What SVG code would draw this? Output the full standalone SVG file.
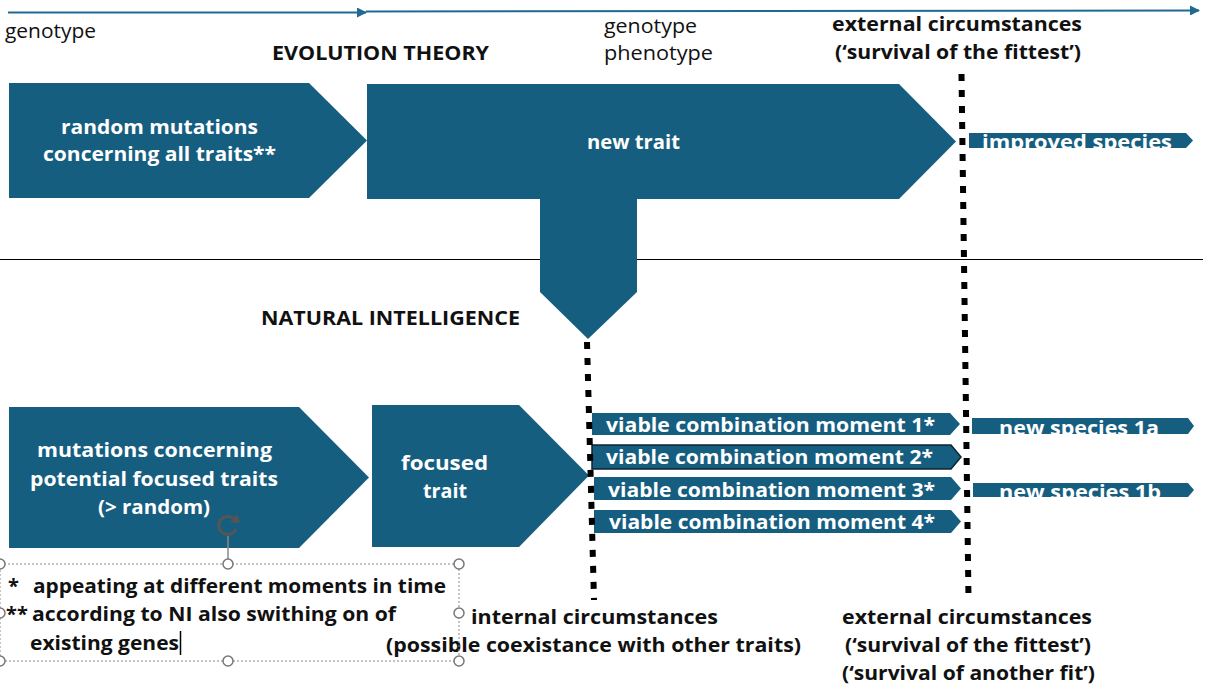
<svg xmlns="http://www.w3.org/2000/svg" width="1210" height="684" viewBox="0 0 1210 684">
<style>
.blk{fill:#165E80}
.wt{fill:#fff;font-family:"Open Sans","Liberation Sans",Arial,sans-serif;font-weight:bold;font-size:20px}
.bt{fill:#111;font-family:"Open Sans","Liberation Sans",Arial,sans-serif;font-weight:bold;font-size:20px}
.rt{fill:#111;font-family:"Open Sans","Liberation Sans",Arial,sans-serif;font-size:20px}
.dot{stroke:#000;stroke-width:6;stroke-dasharray:7 9;fill:none}
.tl{stroke:#1F6A93;stroke-width:2;fill:none}
.hd{fill:#fff;stroke:#777;stroke-width:1.5}
</style>
<defs>
<marker id="ah" viewBox="0 0 10 10" refX="9" refY="5" markerWidth="5" markerHeight="5" orient="auto" markerUnits="strokeWidth">
<path d="M0,0 L10,5 L0,10 Z" fill="#1F6A93"/>
</marker>
</defs>
<rect width="1210" height="684" fill="#fff"/>

<g id="labels">
<text class="rt" x="5" y="38" textLength="91" lengthAdjust="spacingAndGlyphs">genotype</text>
<text class="bt" x="272" y="60" font-size="21" textLength="217" lengthAdjust="spacingAndGlyphs">EVOLUTION THEORY</text>
<text class="rt" x="604" y="33" textLength="93" lengthAdjust="spacingAndGlyphs">genotype</text>
<text class="rt" x="604" y="60" textLength="109" lengthAdjust="spacingAndGlyphs">phenotype</text>
<text class="bt" x="832" y="31" textLength="250" lengthAdjust="spacingAndGlyphs">external circumstances</text>
<text class="bt" x="835" y="59" textLength="246" lengthAdjust="spacingAndGlyphs">(‘survival of the fittest’)</text>
<text class="bt" x="261" y="325" font-size="21" textLength="259" lengthAdjust="spacingAndGlyphs">NATURAL INTELLIGENCE</text>
<text class="bt" x="471" y="624" textLength="247" lengthAdjust="spacingAndGlyphs">internal circumstances</text>
<text class="bt" x="386" y="652" textLength="415" lengthAdjust="spacingAndGlyphs">(possible coexistance with other traits)</text>
<text class="bt" x="842" y="624" textLength="250" lengthAdjust="spacingAndGlyphs">external circumstances</text>
<text class="bt" x="845" y="652" textLength="246" lengthAdjust="spacingAndGlyphs">(‘survival of the fittest’)</text>
<text class="bt" x="842" y="680" textLength="253" lengthAdjust="spacingAndGlyphs">(‘survival of another fit’)</text>
</g>

<g id="separator">
<line x1="0" y1="259.5" x2="1203" y2="259.5" stroke="#000" stroke-width="1"/>
</g>

<g id="timeline">
<line class="tl" x1="8" y1="12.5" x2="366" y2="12.5" marker-end="url(#ah)"/>
<line class="tl" x1="366" y1="11.5" x2="1199" y2="10.5" marker-end="url(#ah)"/>
</g>

<g id="node-random-mutations">
<path class="blk" d="M9,83 L309,83 L367,140.5 L309,198 L9,198 Z"/>
<text class="wt" x="61" y="134" textLength="197" lengthAdjust="spacingAndGlyphs">random mutations</text>
<text class="wt" x="43" y="161" textLength="233" lengthAdjust="spacingAndGlyphs">concerning all traits**</text>
</g>

<g id="node-new-trait">
<path class="blk" d="M367,84 L899,84 L956,141.5 L899,199 L367,199 Z"/>
<path class="blk" d="M540,197 L637,197 L637,292 L588,339 L540,292 Z"/>
<text class="wt" x="587" y="149" textLength="93" lengthAdjust="spacingAndGlyphs">new trait</text>
</g>

<g id="node-improved-species">
<path class="blk" d="M969,133 L1186,133 L1193,140.5 L1186,148 L969,148 Z"/>
<text class="wt" x="982" y="149" font-size="21" textLength="190" lengthAdjust="spacingAndGlyphs">improved species</text>
</g>

<g id="node-mutations-focused">
<path class="blk" d="M9,407 L299,407 L369,477.5 L299,548 L9,548 Z"/>
<text class="wt" x="37" y="457" textLength="235" lengthAdjust="spacingAndGlyphs">mutations concerning</text>
<text class="wt" x="30" y="485.5" textLength="248" lengthAdjust="spacingAndGlyphs">potential focused traits</text>
<text class="wt" x="98" y="514" textLength="112" lengthAdjust="spacingAndGlyphs">(&gt; random)</text>
</g>

<g id="node-focused-trait">
<path class="blk" d="M372,405 L519,405 L589,475.5 L519,547 L372,547 Z"/>
<text class="wt" x="401" y="470" textLength="87" lengthAdjust="spacingAndGlyphs">focused</text>
<text class="wt" x="423" y="498" textLength="44" lengthAdjust="spacingAndGlyphs">trait</text>
</g>

<g id="node-viable-1">
<path class="blk" d="M592,413 L950,413 L960,424 L950,435 L592,435 Z"/>
<text class="wt" x="606" y="431.5" textLength="329" lengthAdjust="spacingAndGlyphs">viable combination moment 1*</text>
</g>
<g id="node-viable-2">
<path class="blk" d="M592,445 L951,445 L961,457 L951,469 L592,469 Z" stroke="#0B2433" stroke-width="1.5"/>
<text class="wt" x="606" y="464" textLength="327" lengthAdjust="spacingAndGlyphs">viable combination moment 2*</text>
</g>
<g id="node-viable-3">
<path class="blk" d="M594,477 L951,477 L961,488.5 L951,500 L594,500 Z"/>
<text class="wt" x="608" y="496.5" textLength="327" lengthAdjust="spacingAndGlyphs">viable combination moment 3*</text>
</g>
<g id="node-viable-4">
<path class="blk" d="M594,510 L951,510 L961,521.5 L951,533 L594,533 Z"/>
<text class="wt" x="609" y="528.5" textLength="326" lengthAdjust="spacingAndGlyphs">viable combination moment 4*</text>
</g>

<g id="node-species-1a">
<path class="blk" d="M972,418 L1188,418 L1194,426 L1188,434 L972,434 Z"/>
<text class="wt" x="999" y="435" textLength="160" lengthAdjust="spacingAndGlyphs">new species 1a</text>
</g>
<g id="node-species-1b">
<path class="blk" d="M973,483 L1188,483 L1194,490 L1188,497 L973,497 Z"/>
<text class="wt" x="999" y="499" textLength="162" lengthAdjust="spacingAndGlyphs">new species 1b</text>
</g>

<g id="note-box">
<rect x="0" y="564" width="459" height="97" fill="none" stroke="#888" stroke-width="1" stroke-dasharray="2 2"/>
<line x1="228" y1="536" x2="228" y2="559" stroke="#888" stroke-width="1.5"/>
<path d="M236,529 A9,9 0 1 1 234,519" fill="none" stroke="#555" stroke-width="3"/>
<path d="M230,522.5 L240,523 L237,514 Z" fill="#555"/>
<circle class="hd" cx="0" cy="564" r="5"/>
<circle class="hd" cx="228" cy="564" r="5"/>
<circle class="hd" cx="459" cy="564" r="5"/>
<circle class="hd" cx="459" cy="613" r="5"/>
<circle class="hd" cx="0" cy="613" r="5"/>
<circle class="hd" cx="0" cy="661" r="5"/>
<circle class="hd" cx="228" cy="661" r="5"/>
<circle class="hd" cx="459" cy="661" r="5"/>
<text class="bt" x="8" y="593">*</text>
<text class="bt" x="33" y="593" textLength="413" lengthAdjust="spacingAndGlyphs">appeating at different moments in time</text>
<text class="bt" x="6" y="621">**</text>
<text class="bt" x="32" y="621" textLength="364" lengthAdjust="spacingAndGlyphs">according to NI also swithing on of</text>
<text class="bt" x="30" y="650" textLength="149" lengthAdjust="spacingAndGlyphs">existing genes</text>
<line x1="180.5" y1="631" x2="180.5" y2="655" stroke="#000" stroke-width="1.5"/>
</g>

<g id="connectors">
<line class="dot" x1="961.5" y1="74" x2="968.5" y2="599"/>
<line class="dot" x1="587" y1="342" x2="594" y2="600"/>
</g>
</svg>
